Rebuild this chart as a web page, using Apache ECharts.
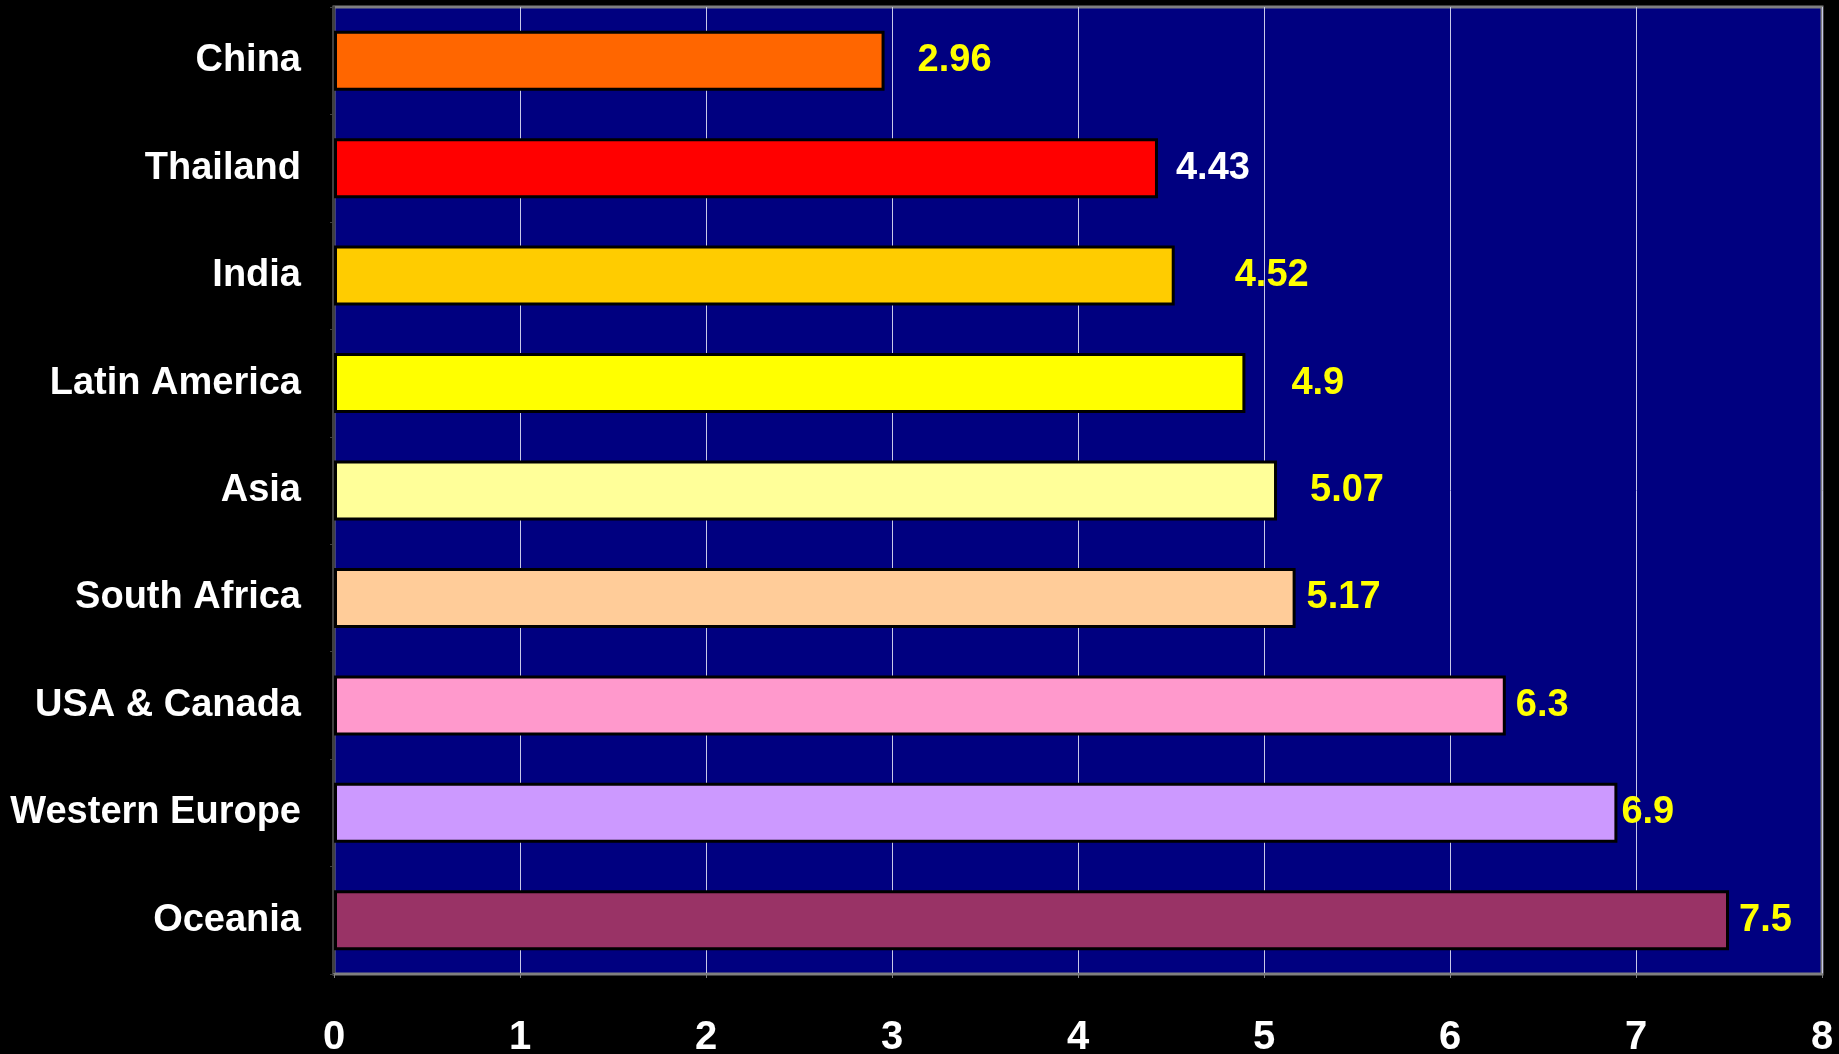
<!DOCTYPE html>
<html>
<head>
<meta charset="utf-8">
<title>Regions bar chart</title>
<script src="https://cdn.jsdelivr.net/npm/echarts@6/dist/echarts.min.js"></script>
<style>
  html, body { margin: 0; padding: 0; background: #000; }
  #chart { width: 1839px; height: 1054px; }
</style>
</head>
<body>
<div id="chart"></div>
<script>
// chart data, top to bottom
const regions = ['China', 'Thailand', 'India', 'Latin America', 'Asia', 'South Africa', 'USA & Canada', 'Western Europe', 'Oceania']
const values = [2.96, 4.43, 4.52, 4.9, 5.07, 5.17, 6.3, 6.9, 7.5]
const valueLabels = ['2.96', '4.43', '4.52', '4.9', '5.07', '5.17', '6.3', '6.9', '7.5']
const xTicks = [0, 1, 2, 3, 4, 5, 6, 7, 8]

// bar fill per region
const barColors = ['#FF6600', '#FF0000', '#FFCC00', '#FFFF00', '#FFFF99', '#FFCC99', '#FF99CC', '#CC99FF', '#993366']
// label colour / gap to bar end (the original labels sit unevenly)
const labelColors = ['#FFFF00', '#FFFFFF', '#FFFF00', '#FFFF00', '#FFFF00', '#FFFF00', '#FFFF00', '#FFFF00', '#FFFF00']
const labelGaps = [33, 18, 60, 46, 33, 11, 10, 4, 10]

const font = '"Liberation Sans", Arial, sans-serif'

const chart = echarts.init(document.getElementById('chart'))

chart.setOption({
  backgroundColor: '#000000',
  animation: false,
  grid: {
    left: 334,
    right: 17,
    top: 7,
    bottom: 80,
    outerBoundsMode: 'none',
    containLabel: false,
    show: true,
    backgroundColor: '#000080',
    borderColor: '#808080',
    borderWidth: 3
  },
  xAxis: {
    type: 'value',
    min: xTicks[0],
    max: xTicks[xTicks.length - 1],
    interval: 1,
    axisLine: { show: true, lineStyle: { color: '#808080', width: 2 } },
    axisTick: { show: true, length: 4, lineStyle: { color: '#808080' } },
    splitLine: { show: true, lineStyle: { color: '#C8C8E8', width: 1 } },
    axisLabel: {
      color: '#FFFFFF',
      fontFamily: font,
      fontWeight: 'bold',
      fontSize: 40,
      margin: 44
    }
  },
  yAxis: {
    type: 'category',
    inverse: true,
    data: regions,
    axisLine: { show: true, lineStyle: { color: '#404040', width: 2 } },
    axisTick: { show: true, length: 4, lineStyle: { color: '#404040' } },
    axisLabel: {
      color: '#FFFFFF',
      fontFamily: font,
      fontWeight: 'bold',
      fontSize: 38,
      margin: 33
    }
  },
  series: [{
    type: 'bar',
    barWidth: 60,
    data: values.map((v, i) => ({
      value: v,
      itemStyle: { color: barColors[i], borderColor: '#000000', borderWidth: 3 },
      label: {
        show: true,
        position: 'right',
        distance: labelGaps[i],
        formatter: valueLabels[i],
        color: labelColors[i],
        fontFamily: font,
        fontWeight: 'bold',
        fontSize: 38
      }
    }))
  }]
})
</script>
</body>
</html>
